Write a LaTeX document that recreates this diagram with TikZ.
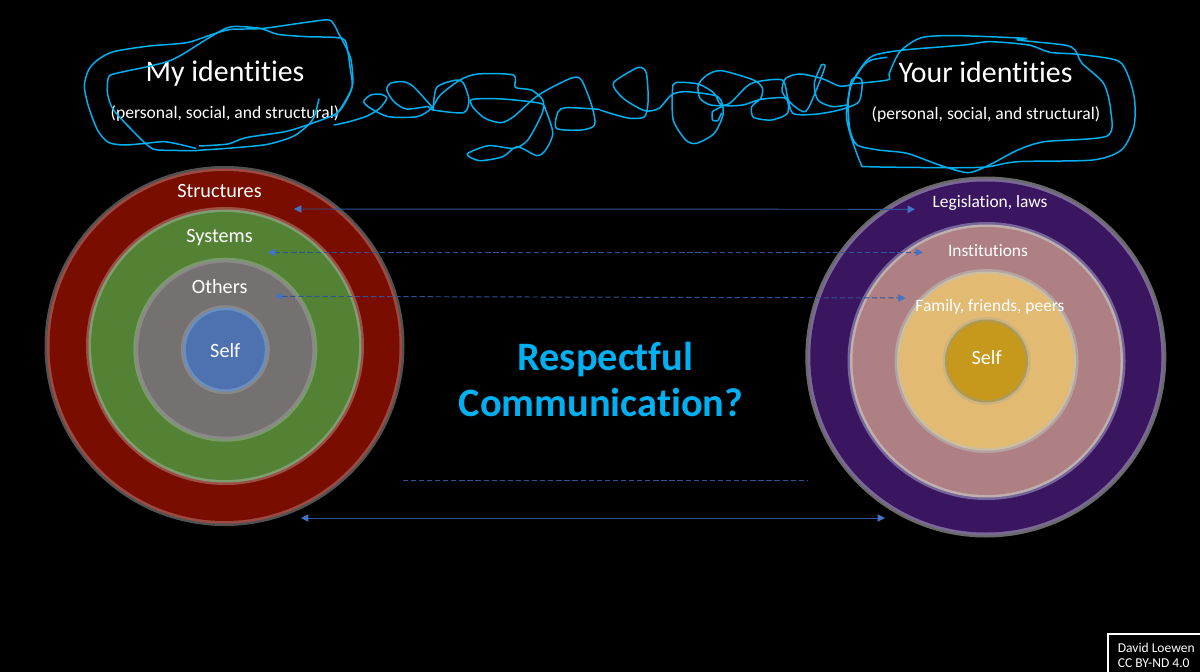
\documentclass[tikz,border=0pt]{standalone}
\usepackage{fontspec}
\setmainfont{Carlito}[Ligatures=NoCommon]
\usetikzlibrary{arrows.meta}
\definecolor{scrib}{HTML}{00B0F0}
\definecolor{lnk}{HTML}{2F5597}
\definecolor{tip}{HTML}{4472C4}
\tikzset{
  lbl/.style={text=white,inner sep=0pt,font=\fontsize{11.5}{13}\selectfont},
  rlbl/.style={text=white,inner sep=0pt,font=\fontsize{9.9}{12}\selectfont},
  headlbl/.style={text=white,inner sep=0pt,font=\fontsize{17}{20}\selectfont},
  sublbl/.style={text=white,inner sep=0pt,font=\fontsize{10}{12}\selectfont},
  scribble/.style={draw=scrib,line width=0.85pt,line join=round,line cap=round},
  link/.style={draw=lnk,line width=0.55pt},
  twoway/.style={link,{Triangle[length=4.2pt,width=4.2pt,color=tip]}-{Triangle[length=4.2pt,width=4.2pt,color=tip]}},
  zone/.style={xscale=1/2.8,yscale=1/3}
}
\newcommand{\disc}[5]{%
  \definecolor{dA}{HTML}{#3}\definecolor{dB}{HTML}{#4}\definecolor{dC}{HTML}{#5}%
  \fill[dA] (#1) circle ({#2});
  \fill[dB] (#1) circle ({#2-2.5});
  \fill[dC] (#1) circle ({#2-5});
}
\begin{document}
\begin{tikzpicture}[x=0.02cm,y=-0.02cm]
\fill[black] (0,0) rectangle (1200,672);
\useasboundingbox (0,0) rectangle (1200,672);
% left rings
\coordinate (La) at (224.5,346);
\coordinate (Lb) at (225,346);
\coordinate (Lc) at (225.3,349.7);
\disc{La}{180}{525252}{9C4A42}{790D00}
\disc{Lb}{139}{9C4F47}{7E9E72}{548235}
\disc{Lc}{92}{7A9A6C}{8A8888}{767171}
\disc{Lc}{44.5}{888888}{6A8EC0}{4E71B0}
% right rings
\coordinate (Ra) at (985.8,357);
\coordinate (Rb) at (986.5,361);
\disc{Ra}{180.5}{6A6A6A}{7A6896}{3A1560}
\disc{Rb}{139}{76659A}{BFAFAF}{AF8083}
\disc{Rb}{92}{B5A3A3}{CDBE9E}{E2BA72}
\disc{Rb}{44}{CBB484}{B09950}{C6981C}
% ring labels
\node[lbl] (t1) at (219.5,191.5) {Structures};
\node[lbl] (t2) at (219.5,238) {Systems};
\node[lbl] (t3) at (219.7,287) {Others};
\node[lbl] (t4) at (225.3,351) {Self};
\node[rlbl] (t5) at (990,202.5) {Legislation, laws};
\node[rlbl] (t6) at (988,251) {Institutions};
\node[rlbl] (t7) at (990,307) {Family, friends, peers};
\node[lbl] (t8) at (986.7,358) {Self};
% headings
\node[headlbl] (h1) at (225,74) {My identities};
\node[sublbl] (s1) at (225,113.5) {(personal, social, and structural)};
\node[headlbl] (h2) at (985.5,72.5) {Your identities};
\node[sublbl] (s2) at (986,114.5) {(personal, social, and structural)};
% centre
\node[text=scrib,inner sep=0pt,align=center,font=\fontsize{23}{26.3}\bfseries\selectfont] (q) at (601,379.5) {\hspace*{5pt}Respectful\\Communication?};
% links
\coordinate (a1) at (294,209); \coordinate (b1) at (915,209.3);
\coordinate (a2) at (268,252.3); \coordinate (b2) at (923,252.3);
\coordinate (a3) at (275,296.3); \coordinate (b3) at (905.7,298);
\coordinate (a4) at (301,518); \coordinate (b4) at (885,518);
\coordinate (a5) at (402.7,480.7); \coordinate (b5) at (807,480.7);
\draw[twoway] (a1) -- (b1);
\draw[twoway,dash pattern=on 3pt off 1.6pt] (a2) -- (b2);
\draw[twoway,dash pattern=on 3pt off 1.6pt] (a3) -- (b3);
\draw[twoway] (a4) -- (b4);
\draw[link,dash pattern=on 3pt off 1.6pt] (a5) -- (b5);
% credit
\coordinate (c1) at (1108,634); \coordinate (c2) at (1210,682);
\draw[white,line width=0.6pt] (c1) rectangle (c2);
\node[text=white,inner sep=0pt,anchor=west,align=left,font=\fontsize{7.7}{8.6}\selectfont] (credit) at (1117.5,655.5) {David Loewen\\CC BY-ND 4.0};
% scribbles, left part
\begin{scope}[shift={(60,0)},zone]
\draw[scribble] plot[smooth,tension=0.45] coordinates {(725,297)(715,340)(700,370)(660,405)(620,422)(570,435)(470,445)(400,450)(380,452)};
\draw[scribble] plot[smooth,tension=0.45] coordinates {(380,445)(330,432)(290,425)(240,430)(180,435)(135,427)(105,390)(80,320)(68,258)(80,210)(105,180)(150,155)(250,138)(355,128)(430,102)(480,88)(570,85)(740,60)(765,70)(780,100)(800,140)(815,180)(820,250)(805,295)(775,340)(700,372)(630,395)(520,413)(470,432)(390,438)};
\draw[scribble] plot[smooth,tension=0.45] coordinates {(380,452)(275,450)(250,440)(215,405)(150,330)(133,280)(135,235)(150,222)(245,200)(300,185)(340,165)(430,105)(480,80)(560,85)(610,103)(690,110)(790,115)(805,150)(812,200)(818,260)(795,310)(770,350)};
\draw[scribble] plot[smooth,tension=0.45] coordinates {(768,375)(810,365)(860,348)(895,325)(915,295)(900,283)(870,285)(850,305)(870,325)(920,350)(1000,350)(1040,325)(1065,285)(1120,240)(1170,222)(1270,225)(1275,262)(1320,270)(1352,300)(1350,340)(1310,420)(1270,445)(1200,437)(1140,462)(1175,482)(1240,470)(1280,440)(1335,467)(1360,450)(1380,400)(1360,330)(1345,310)(1240,297)(1155,298)(1155,320)(1190,355)(1235,368)(1270,350)(1340,285)(1430,235)(1460,240)(1490,320)(1497,375)(1460,390)(1390,385)(1395,335)(1420,323)(1510,328)};
\draw[scribble] plot[smooth,tension=0.45] coordinates {(1045,325)(990,260)(960,245)(925,250)(915,270)(935,305)(970,327)(1030,320)(1045,330)(1130,338)(1145,300)(1130,250)(1110,240)(1055,262)(1045,330)};
\end{scope}
% scribbles, right part
\begin{scope}[shift={(600,0)},zone]
\draw[scribble] plot[smooth,tension=0.45] coordinates {(0,330)(45,345)(85,355)(125,350)(135,300)(130,220)(115,202)(95,208)(37,250)(65,295)(125,332)(165,325)(200,285)(240,275)(330,290)(345,340)(320,400)(270,430)(240,420)(205,360)(203,270)(212,248)(275,252)(320,280)(340,315)(400,315)(450,298)(520,295)(525,340)(480,360)(430,352)(425,320)(450,295)(455,265)(430,240)(340,212)(300,225)(275,255)(280,295)(310,315)(360,312)(410,260)(440,245)(510,240)(525,290)(540,340)(600,343)(670,330)(725,305)(733,240)(705,240)(690,340)(700,400)(730,490)(750,500)(950,503)(1030,503)(1090,500)(1170,485)(1380,480)(1460,450)(1495,380)(1497,300)(1480,230)(1450,182)(1340,163)(1260,157)(1200,135)(1090,125)(1020,135)(850,150)(770,165)(740,190)(705,250)(695,310)(700,390)(720,435)(780,450)(860,460)(950,495)(1030,518)(1090,495)(1170,450)(1245,425)(1420,408)(1430,330)(1410,250)(1350,190)(1330,150)(1300,135)(1170,120)(1190,115)(1000,107)(900,113)(840,155)(810,220)(805,240)(700,252)};
\draw[scribble] plot[smooth,tension=0.45] coordinates {(803,172)(760,180)(735,200)(705,250)};
\draw[scribble] plot[smooth,tension=0.45] coordinates {(620,195)(600,250)(610,300)(650,320)(690,315)};
\draw[scribble] plot[smooth,tension=0.45] coordinates {(620,195)(630,200)(600,285)(575,335)(540,315)(510,275)(520,235)(560,222)(620,235)(670,258)(700,255)};
\draw[scribble] plot[smooth,tension=0.3] coordinates {(340,320)(315,335)(315,360)(330,362)(340,340)};
\end{scope}
\end{tikzpicture}
\end{document}
